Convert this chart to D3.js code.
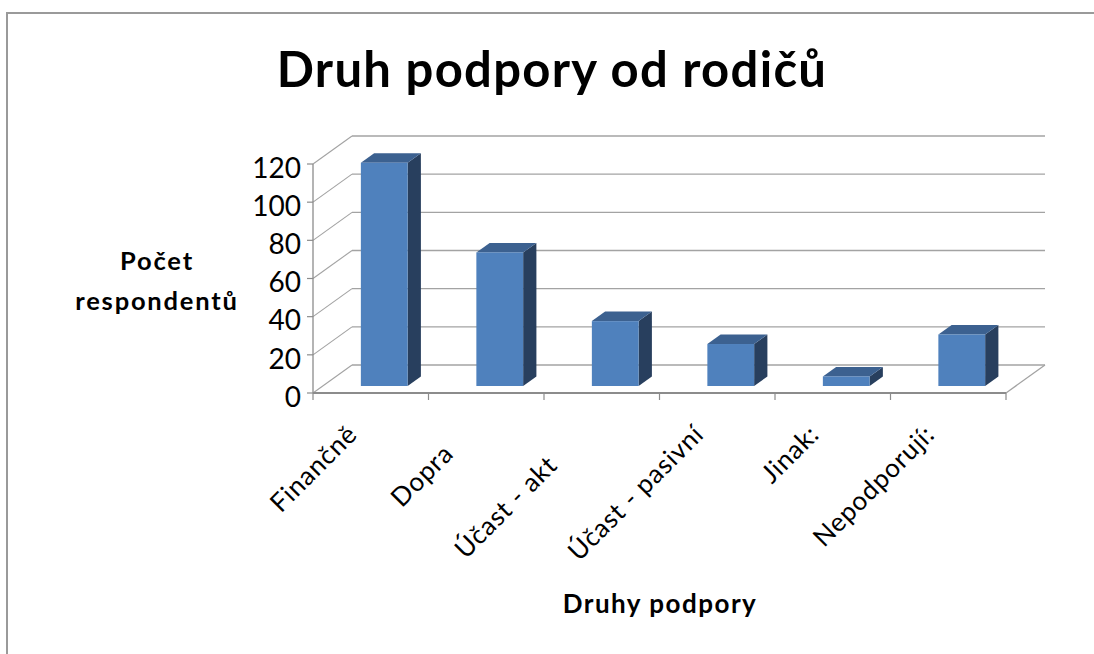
<!DOCTYPE html>
<html>
<head>
<meta charset="utf-8">
<script src="https://cdn.jsdelivr.net/npm/d3@7"></script>
<style>
  html, body { margin: 0; padding: 0; background: #ffffff; }
  svg { display: block; }
</style>
</head>
<body>
<script>
// ---- data ----
const categories = ["Finančně", "Doprava", "Účast - aktivní", "Účast - pasivní", "Jinak:", "Nepodporují:"];
const categoryLabels = ["Finančně", "Dopra", "Účast - akt", "Účast - pasivní", "Jinak:", "Nepodporují:"];
const values = [117, 70, 34, 22, 5, 27];
const yTicks = [0, 20, 40, 60, 80, 100, 120];
const titleText = "Druh podpory od rodičů";
const yTitle = ["Počet", "respondentů"];
const xTitle = "Druhy podpory";

// ---- layout ----
const W = 1094, H = 654;
const FONT = "Lato, 'Open Sans', sans-serif";
const svg = d3.select("body").append("svg").attr("width", W).attr("height", H);

// chart-area border
svg.append("rect").attr("x", 7).attr("y", 13).attr("width", W + 20).attr("height", H + 20)
  .attr("fill", "none").attr("stroke", "#9a9a9a").attr("stroke-width", 2);

const x = d3.scaleBand().domain(categories).range([313, 1006]);
const y = d3.scaleLinear().domain([0, 120]).range([393, 164]);
const DX = 39, DY = -28;               // depth projection per unit of depth
const P = (px, py, z) => [px + z * DX, py + z * DY];
const [x0, x1] = x.range();
const grid = "#a3a3a3";

const g = svg.append("g");
// back wall gridlines and side wall diagonals
yTicks.forEach(t => {
  const a = P(x0, y(t), 1), b = P(x1, y(t), 1);
  g.append("line").attr("x1", a[0]).attr("y1", a[1]).attr("x2", b[0]).attr("y2", b[1])
    .attr("stroke", grid).attr("stroke-width", 1.3);
  g.append("line").attr("x1", x0).attr("y1", y(t)).attr("x2", a[0]).attr("y2", a[1])
    .attr("stroke", grid).attr("stroke-width", 1.1);
});
// floor right edge
{
  const b = P(x1, y(0), 1);
  g.append("line").attr("x1", x1).attr("y1", y(0)).attr("x2", b[0]).attr("y2", b[1])
    .attr("stroke", grid).attr("stroke-width", 1.3);
}
// front axes
g.append("line").attr("x1", x0).attr("y1", y(0)).attr("x2", x0).attr("y2", y(120))
  .attr("stroke", "#8c8c8c").attr("stroke-width", 1.3);
g.append("line").attr("x1", x0).attr("y1", y(0)).attr("x2", x1).attr("y2", y(0))
  .attr("stroke", "#8c8c8c").attr("stroke-width", 2);
yTicks.forEach(t => {
  g.append("line").attr("x1", x0 - 6).attr("y1", y(t)).attr("x2", x0).attr("y2", y(t))
    .attr("stroke", "#8c8c8c").attr("stroke-width", 1.2);
});
const bounds = categories.map(c => x(c)).concat([x1]);
bounds.forEach(b => {
  g.append("line").attr("x1", b).attr("y1", y(0)).attr("x2", b).attr("y2", y(0) + 7)
    .attr("stroke", "#8c8c8c").attr("stroke-width", 1.2);
});

// y tick labels
svg.append("g").selectAll("text").data(yTicks).join("text")
  .attr("x", 301).attr("y", d => y(d) + 4).attr("dy", "0.35em")
  .attr("text-anchor", "end").attr("font-family", FONT).attr("font-size", 28)
  .attr("fill", "#000").text(d => d);

// bars (3D columns)
const z0 = 0.25, dz = 0.34;
const bw = x.bandwidth();
const bars = svg.append("g");
categories.forEach((c, i) => {
  const v = values[i];
  const fx0 = x(c) + 0.33 * bw + z0 * DX;
  const fx1 = x(c) + 0.735 * bw + z0 * DX;
  const ft = y(v) + z0 * DY;
  const fb = y(0) + z0 * DY;
  const ddx = dz * DX, ddy = dz * DY;
  bars.append("polygon")
    .attr("points", [[fx1, ft], [fx1 + ddx, ft + ddy], [fx1 + ddx, fb + ddy], [fx1, fb]].map(p => p.join(",")).join(" "))
    .attr("fill", "#283f5e");
  bars.append("polygon")
    .attr("points", [[fx0, ft], [fx1, ft], [fx1 + ddx, ft + ddy], [fx0 + ddx, ft + ddy]].map(p => p.join(",")).join(" "))
    .attr("fill", "#3c6190");
  bars.append("rect").attr("x", fx0).attr("y", ft).attr("width", fx1 - fx0).attr("height", fb - ft)
    .attr("fill", "#4f81bd");
});

// category labels, rotated, end-anchored on the full label, showing the visible part
const lab = svg.append("g");
categories.forEach((c, i) => {
  const gg = lab.append("g")
    .attr("transform", `translate(${x(c) + bw / 2 - 12},${436}) rotate(-45)`);
  const t = gg.append("text").attr("font-family", FONT).attr("font-size", 26)
    .attr("letter-spacing", 0.8).attr("fill", "#000").attr("text-anchor", "start").text(c);
  const full = t.node().getComputedTextLength();
  t.text(categoryLabels[i]).attr("x", -full);
});

// titles
svg.append("text").attr("x", 552).attr("y", 87).attr("text-anchor", "middle")
  .attr("font-family", FONT).attr("font-weight", "bold").attr("font-size", 49)
  .attr("letter-spacing", 1.3).attr("fill", "#000").text(titleText);
svg.append("text").attr("text-anchor", "middle").attr("font-family", FONT)
  .attr("font-weight", "bold").attr("font-size", 25.5).attr("letter-spacing", 1.8).attr("fill", "#000")
  .selectAll("tspan").data(yTitle).join("tspan")
  .attr("x", 157).attr("y", (d, i) => 270 + i * 40).text(d => d);
svg.append("text").attr("x", 660).attr("y", 613).attr("text-anchor", "middle")
  .attr("font-family", FONT).attr("font-weight", "bold").attr("font-size", 26)
  .attr("letter-spacing", 1.5).attr("fill", "#000").text(xTitle);
</script>
</body>
</html>
